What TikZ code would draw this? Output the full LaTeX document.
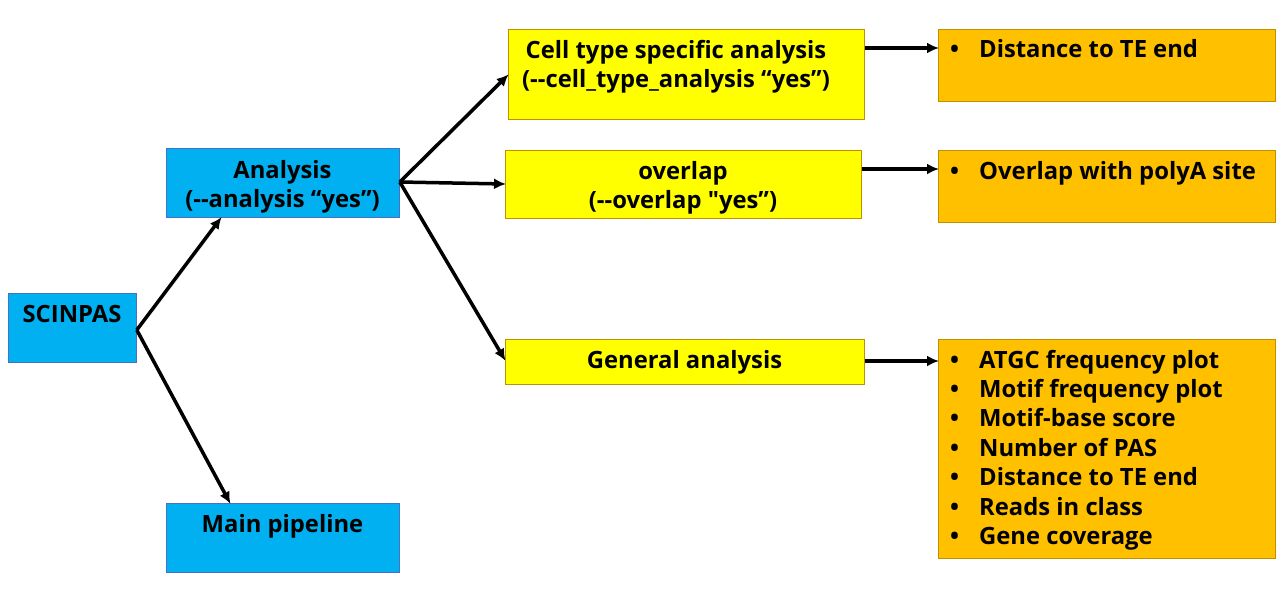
\documentclass[tikz,border=0pt]{standalone}
\usepackage{fontspec}
\setmainfont{Open Sans}[BoldFont={Open Sans Bold}]
\newfontfamily\nomapfont{Open Sans}[BoldFont={Open Sans Bold},Ligatures=TeXOff]
\usetikzlibrary{arrows.meta,calc}
\definecolor{cblue}{HTML}{00B0F0}
\definecolor{cblueb}{HTML}{4472C4}
\definecolor{cyel}{HTML}{FFFF00}
\definecolor{cyelb}{HTML}{BF9000}
\definecolor{corg}{HTML}{FFC000}
\tikzset{
  box/.style={draw, line width=0.8pt, inner sep=0pt, anchor=north west},
  bluebox/.style={box, fill=cblue, draw=cblueb},
  yelbox/.style={box, fill=cyel, draw=cyelb},
  orgbox/.style={box, fill=corg, draw=cyelb},
  txt/.style={inner sep=0pt, anchor=base, font=\fontsize{23.8}{29.4}\selectfont\bfseries},
  ltxt/.style={txt, anchor=base west},
  conn/.style={line width=3.5pt, -{Latex[length=12pt,width=11pt]}, shorten >=-1pt},
}
\newcommand{\bul}{\makebox[36pt][l]{\hspace{7pt}•}}
\newcommand{\dd}{-{}-}
\newcommand{\sq}{{\nomapfont"}}
\begin{document}
\begin{tikzpicture}[x=1pt,y=-1pt]
\useasboundingbox (0,0) rectangle (1283,589);
% boxes
\node[bluebox, minimum width=128pt, minimum height=69pt] (scin) at (8,293) {};
\node[bluebox, minimum width=233pt, minimum height=69pt] (ana) at (166,148) {};
\node[bluebox, minimum width=233pt, minimum height=69pt] (main) at (166,503) {};
\node[yelbox, minimum width=356pt, minimum height=90pt] (cell) at (508,29) {};
\node[yelbox, minimum width=356pt, minimum height=68pt] (ovl) at (505,150) {};
\node[yelbox, minimum width=359pt, minimum height=45pt] (gen) at (505,339) {};
\node[orgbox, minimum width=337pt, minimum height=72pt] (o1) at (938,29) {};
\node[orgbox, minimum width=337pt, minimum height=72pt] (o2) at (938,150) {};
\node[orgbox, minimum width=337pt, minimum height=219pt] (o3) at (938,339) {};
% texts
\node[txt] (tscin) at (72,322) {SCINPAS};
\node[txt] (tana) at (282.5,178) {\begin{tabular}[t]{@{}c@{}}Analysis\\(\dd analysis “yes”)\end{tabular}};
\node[txt] (tmain) at (282.5,532) {Main pipeline};
\node[txt] (tcell) at (676,58) {\begin{tabular}[t]{@{}c@{}}Cell type specific analysis\\(\dd cell\_type\_analysis “yes”)\end{tabular}};
\node[txt] (tovl) at (683,179) {\begin{tabular}[t]{@{}c@{}}overlap\\(\dd overlap \sq yes”)\end{tabular}};
\node[txt] (tgen) at (684.5,368) {General analysis};
\node[ltxt] (to1) at (943,57) {\bul Distance to TE end};
\node[ltxt] (to2) at (943,179) {\bul Overlap with polyA site};
\node[ltxt] (to3) at (943,368) {\begin{tabular}[t]{@{}l@{}}\bul ATGC frequency plot\\\bul Motif frequency plot\\\bul Motif-base score\\\bul Number of PAS\\\bul Distance to TE end\\\bul Reads in class\\\bul Gene coverage\end{tabular}};
% connectors
\coordinate (s0) at ($(scin.north east)+(0,37)$);
\coordinate (a0) at ($(ana.north east)+(0,34)$);
\draw[conn] (s0) -- ($(ana.south west)+(55,0)$);
\draw[conn] (s0) -- ($(main.north west)+(64,0)$);
\draw[conn] (a0) -- ($(cell.north west)+(0,46)$);
\draw[conn] (a0) -- ($(ovl.north west)+(0,34)$);
\draw[conn] (a0) -- ($(gen.north west)+(0,21)$);
\draw[conn] ($(cell.north east)+(0,19)$) -- ($(o1.north west)+(0,19)$);
\draw[conn] ($(ovl.north east)+(0,19)$) -- ($(o2.north west)+(0,19)$);
\draw[conn] ($(gen.north east)+(0,22)$) -- ($(o3.north west)+(0,22)$);
\end{tikzpicture}
\end{document}
